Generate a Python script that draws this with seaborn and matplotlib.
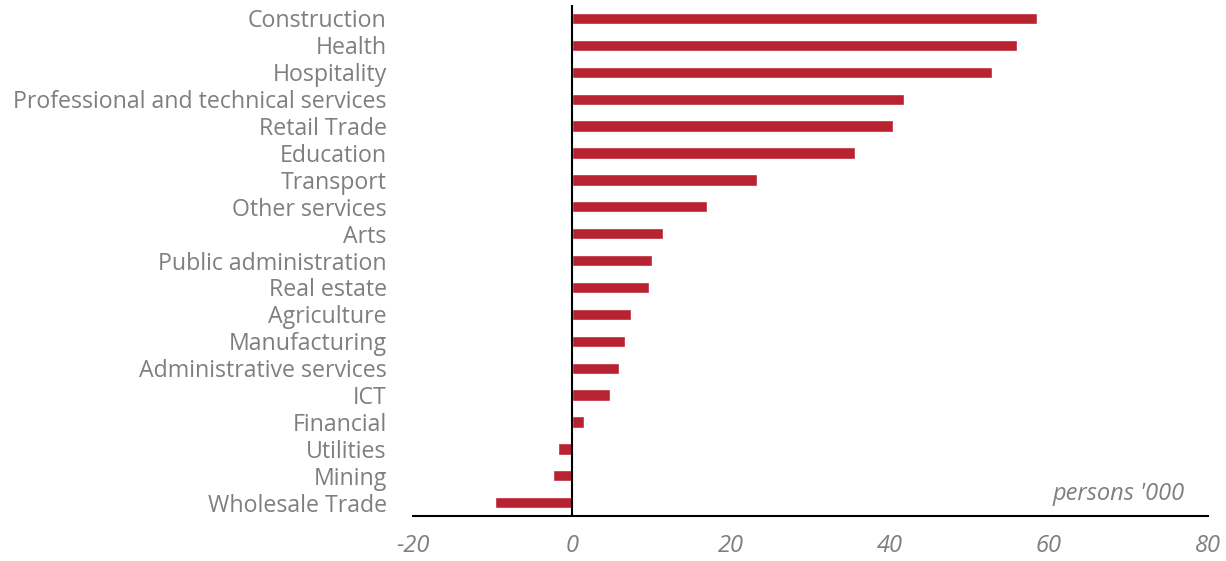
import numpy as np
import pandas as pd
import matplotlib
matplotlib.use("Agg")
import matplotlib.pyplot as plt
import seaborn as sns

# industries, change in employment (persons '000)
industries = ["Construction", "Health", "Hospitality",
              "Professional and technical services", "Retail Trade",
              "Education", "Transport", "Other services", "Arts",
              "Public administration", "Real estate", "Agriculture",
              "Manufacturing", "Administrative services", "ICT",
              "Financial", "Utilities", "Mining", "Wholesale Trade"]
change = [58.5, 56.0, 52.8, 41.8, 40.4, 35.6, 23.3, 17.0, 11.4,
          10.1, 9.7, 7.4, 6.7, 5.9, 4.8, 1.5, -1.8, -2.4, -9.7]
xticks = [-20, 0, 20, 40, 60, 80]

df = pd.DataFrame({"industry": industries, "change": change})

sns.set_style("white")
plt.rcParams["font.family"] = ["Open Sans", "DejaVu Sans"]

fig = plt.figure(figsize=(12.26, 5.61), dpi=100)
ax = fig.add_axes([0.337, 0.080, 0.648, 0.911])

sns.barplot(data=df, y="industry", x="change", orient="h",
            color="#B82231", width=0.42, saturation=1, ax=ax)

ax.set_xlim(-20, 80)
ax.set_ylim(len(industries) - 0.5, -0.5)
ax.set_xticks(xticks)
ax.set_xticklabels([str(t) for t in xticks], fontstyle="italic",
                   color="#7f7f7f", fontsize=17)
ax.tick_params(axis="x", length=0, pad=13)
ax.tick_params(axis="y", length=0, pad=19, labelsize=16.7, labelcolor="#7f7f7f")
ax.set_xlabel("")
ax.set_ylabel("")

for s in ["top", "right", "left"]:
    ax.spines[s].set_visible(False)
ax.spines["bottom"].set_color("black")
ax.spines["bottom"].set_linewidth(1.5)
ax.axvline(0, color="black", linewidth=1.5)

ax.text(0.971, 0.043, "persons '000", transform=ax.transAxes, ha="right",
        va="center", fontstyle="italic", color="#7f7f7f", fontsize=17)

fig.savefig("out.png", dpi=100)
